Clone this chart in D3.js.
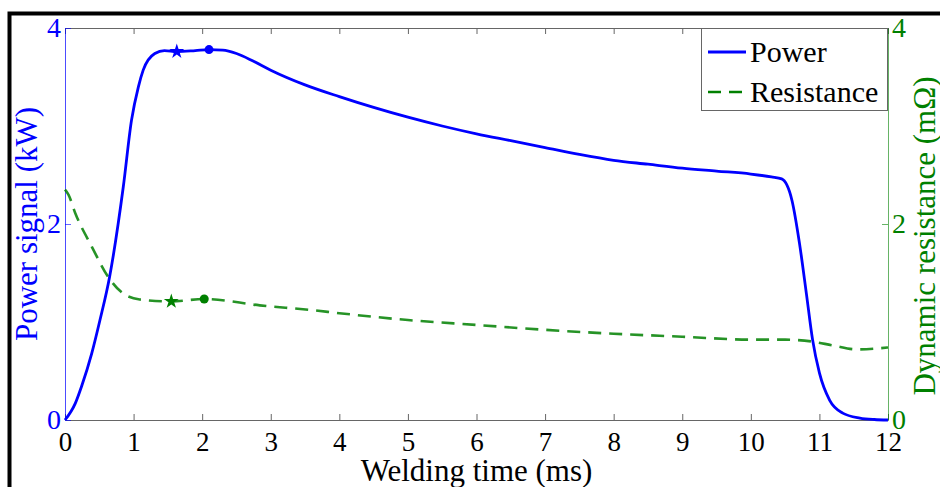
<!DOCTYPE html>
<meta charset="utf-8">
<style>
body { margin: 0; background: #fff; }
text { font-family: "Liberation Serif", "Times New Roman", serif; }
</style>
<body>
<script src="https://d3js.org/d3.v7.min.js"></script>
<script>

// power signal (kW) vs welding time (ms)
const powerTime = [0, 0.15, 0.24, 0.39, 0.51, 0.65, 0.85, 0.97, 1.07, 1.14, 1.31, 1.45, 1.63, 1.9, 2.1, 2.3, 2.5, 2.75, 3, 3.5, 4, 4.5, 5, 5.5, 6, 6.5, 7, 7.5, 8, 8.5, 9, 9.5, 10, 10.3, 10.45, 10.6, 10.71, 10.81, 10.9, 11.0, 11.15, 11.34, 11.59, 11.8, 12];
const powerVal  = [0, 0.17, 0.34, 0.68, 1.02, 1.46, 2.38, 3.06, 3.40, 3.57, 3.74, 3.77, 3.76, 3.77, 3.78, 3.775, 3.74, 3.66, 3.57, 3.42, 3.30, 3.19, 3.09, 3.00, 2.92, 2.85, 2.78, 2.71, 2.65, 2.61, 2.57, 2.54, 2.51, 2.48, 2.46, 2.24, 1.80, 1.29, 0.82, 0.48, 0.20, 0.07, 0.02, 0.005, 0];

// dynamic resistance (mOhm)
const resTime = [0, 0.05, 0.15, 0.39, 0.63, 0.85, 1.09, 1.55, 2.03, 2.84, 3.62, 4, 5, 6, 7, 8, 9, 10, 10.5, 10.9, 11.2, 11.55, 12];
const resVal  = [2.35, 2.30, 2.11, 1.77, 1.46, 1.29, 1.23, 1.21, 1.235, 1.17, 1.12, 1.09, 1.02, 0.97, 0.92, 0.88, 0.85, 0.82, 0.82, 0.80, 0.76, 0.72, 0.74];

// star / dot markers
const powerStar = [1.63, 3.76], powerDot = [2.10, 3.78];
const resStar = [1.55, 1.21], resDot = [2.03, 1.235];

const xTicks = d3.range(0, 13);
const yTicks = [0, 2, 4];
const legendItems = ["Power", "Resistance"];

const width = 940, height = 487,
      mLeft = 65, mRight = 888, mTop = 28, mBottom = 420,
      blue = "#0000ff", green = "#008000";

let svg = d3.select("body").append("svg")
    .attr("width", width)
    .attr("height", height);

// outer frame
svg.append("rect")
    .attr("x", 9.5).attr("y", 13.5)
    .attr("width", 1000).attr("height", 600)
    .attr("fill", "none").attr("stroke", "#000").attr("stroke-width", 4);

let x = d3.scaleLinear().domain([0, 12]).range([mLeft, mRight]),
    yP = d3.scaleLinear().domain([0, 4]).range([mBottom, mTop]),
    yR = d3.scaleLinear().domain([0, 4]).range([mBottom, mTop]);

// bottom axis
let gx = svg.append("g")
    .attr("transform", `translate(0,${mBottom})`)
    .call(d3.axisBottom(x).tickValues(xTicks).tickSizeInner(-6).tickSizeOuter(0).tickPadding(12));
gx.select(".domain").attr("stroke", "#666");
gx.selectAll(".tick line").attr("stroke", "#666");
gx.selectAll(".tick text").attr("font-size", 27).attr("fill", "#000");

// top axis (ticks only)
let gt = svg.append("g")
    .attr("transform", `translate(0,${mTop})`)
    .call(d3.axisTop(x).tickValues(xTicks).tickSizeInner(-6).tickSizeOuter(0).tickFormat(""));
gt.select(".domain").attr("stroke", "#666");
gt.selectAll(".tick line").attr("stroke", "#666");

// left axis
let gl = svg.append("g")
    .attr("transform", `translate(${mLeft},0)`)
    .call(d3.axisLeft(yP).tickValues(yTicks).tickSizeInner(-6).tickSizeOuter(0).tickPadding(4).tickFormat(d3.format("d")));
gl.select(".domain").attr("stroke", blue).attr("stroke-opacity", 0.7);
gl.selectAll(".tick line").attr("stroke", blue).attr("stroke-opacity", 0.6);
gl.selectAll(".tick text").attr("font-size", 28).attr("fill", blue);

// right axis
let gr = svg.append("g")
    .attr("transform", `translate(${mRight},0)`)
    .call(d3.axisRight(yR).tickValues(yTicks).tickSizeInner(-6).tickSizeOuter(0).tickPadding(4).tickFormat(d3.format("d")));
gr.select(".domain").attr("stroke", green).attr("stroke-opacity", 0.6);
gr.selectAll(".tick line").attr("stroke", green).attr("stroke-opacity", 0.6);
gr.selectAll(".tick text").attr("font-size", 28).attr("fill", green);

// lines
let powerLine = d3.line().curve(d3.curveMonotoneX)
    .x((d, i) => x(powerTime[i])).y(d => yP(d));
let resLine = d3.line().curve(d3.curveMonotoneX)
    .x((d, i) => x(resTime[i])).y(d => yR(d));

svg.append("path")
    .attr("d", resLine(resVal))
    .attr("fill", "none").attr("stroke", green).attr("stroke-opacity", 0.85)
    .attr("stroke-width", 2.6).attr("stroke-dasharray", "13,8");

svg.append("path")
    .attr("d", powerLine(powerVal))
    .attr("fill", "none").attr("stroke", blue).attr("stroke-width", 2.8);

// markers
const star = d3.symbol().type(d3.symbolStar).size(70);
svg.append("path").attr("d", star).attr("fill", blue)
    .attr("transform", `translate(${x(powerStar[0])},${yP(powerStar[1])})`);
svg.append("circle").attr("r", 4.5).attr("fill", blue)
    .attr("cx", x(powerDot[0])).attr("cy", yP(powerDot[1]));
svg.append("path").attr("d", star).attr("fill", green)
    .attr("transform", `translate(${x(resStar[0])},${yR(resStar[1])})`);
svg.append("circle").attr("r", 4.5).attr("fill", green)
    .attr("cx", x(resDot[0])).attr("cy", yR(resDot[1]));

// axis labels
svg.append("text")
    .attr("x", (mLeft + mRight) / 2).attr("y", 481)
    .attr("text-anchor", "middle").attr("font-size", 31)
    .text("Welding time (ms)");

svg.append("text")
    .attr("transform", `translate(37,${(mTop + mBottom) / 2}) rotate(-90)`)
    .attr("text-anchor", "middle").attr("font-size", 31).attr("fill", blue)
    .text("Power signal (kW)");

svg.append("text")
    .attr("transform", `translate(935,${(mTop + mBottom) / 2 + 12}) rotate(-90)`)
    .attr("text-anchor", "middle").attr("font-size", 31).attr("fill", green)
    .text("Dynamic resistance (m\u03A9)");

// legend
let lg = svg.append("g");
lg.append("rect")
    .attr("x", 701.5).attr("y", mTop + 0.5)
    .attr("width", mRight - 702).attr("height", 82)
    .attr("fill", "#fff").attr("stroke", "#666");

let item = lg.selectAll("g.item")
    .data(legendItems)
    .join("g")
    .attr("class", "item")
    .attr("transform", (d, i) => `translate(708,${52 + i * 40})`);

item.append("line")
    .attr("x1", 0).attr("x2", 38)
    .attr("stroke", (d, i) => i ? green : blue)
    .attr("stroke-width", (d, i) => i ? 2.6 : 2.8)
    .attr("stroke-dasharray", (d, i) => i ? "13,8" : null);

item.append("text")
    .attr("x", 42).attr("y", 10)
    .attr("font-size", 30)
    .text(d => d);

</script>
